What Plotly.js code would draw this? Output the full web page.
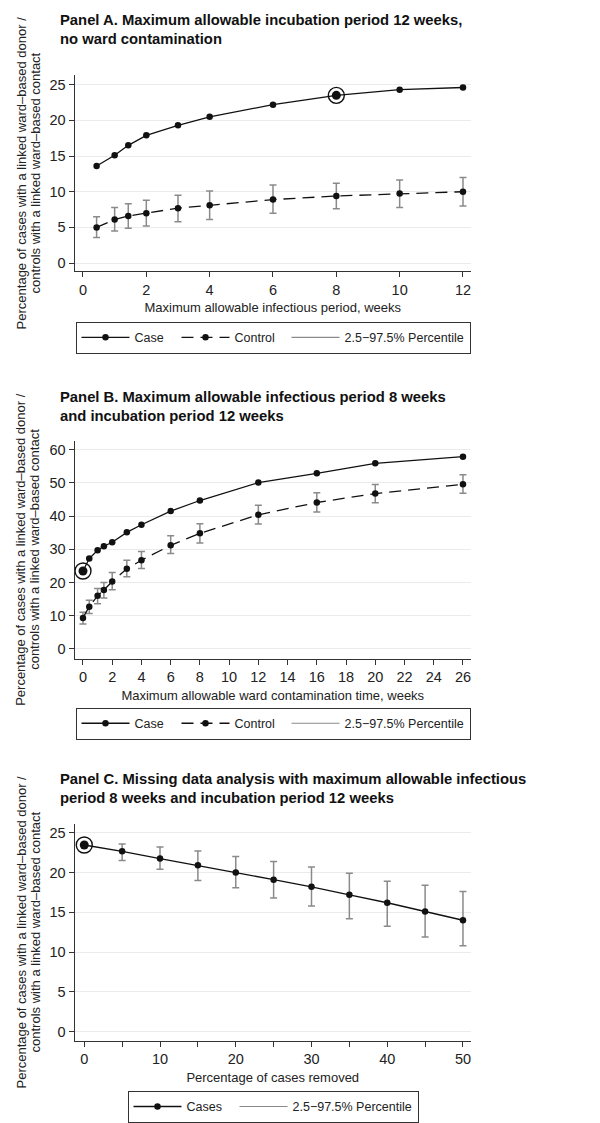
<!DOCTYPE html>
<html><head><meta charset="utf-8">
<script src="https://cdn.plot.ly/plotly-3.0.1.min.js"></script>
<style>html,body{margin:0;padding:0;background:#fff}#chart{width:600px;height:1123px}</style>
</head><body><div id="chart"></div><script>
// ---------- Panel A: x = maximum allowable infectious period (weeks)
const aWeeks   = [0.43, 1, 1.43, 2, 3, 4, 6, 8, 10, 12];
const aCase    = [13.6, 15.1, 16.5, 17.9, 19.3, 20.5, 22.2, 23.5, 24.3, 24.6];
const aControl = [5.0, 6.1, 6.6, 7.0, 7.7, 8.1, 8.9, 9.4, 9.75, 10.0];
const aCtrlLo  = [3.6, 4.5, 4.9, 5.2, 5.8, 6.1, 7.0, 7.6, 7.8, 8.0];
const aCtrlHi  = [6.5, 7.8, 8.3, 8.8, 9.5, 10.1, 10.95, 11.2, 11.65, 12.0];
const aHighX = [8], aHighY = [23.5];
const aTicks = [0, 2, 4, 6, 8, 10, 12];

// ---------- Panel B: x = maximum allowable ward contamination time (weeks)
const bWeeks   = [0, 0.43, 1, 1.43, 2, 3, 4, 6, 8, 12, 16, 20, 26];
const bCase    = [23.45, 27.2, 29.7, 30.9, 32.1, 35.1, 37.4, 41.5, 44.7, 50.1, 52.9, 55.9, 57.9];
const bControl = [9.3, 12.7, 16.0, 17.7, 20.3, 24.1, 26.7, 31.2, 34.8, 40.4, 44.1, 46.8, 49.6];
const bCtrlLo  = [7.5, 10.6, 13.6, 15.3, 17.8, 21.7, 24.2, 28.7, 31.9, 37.6, 41.2, 44.0, 46.9];
const bCtrlHi  = [11.0, 14.6, 18.2, 20.0, 23.0, 26.7, 29.3, 34.1, 37.7, 43.3, 47.0, 49.5, 52.5];
const bHighX = [0], bHighY = [23.45];
const bTicks = [0, 2, 4, 6, 8, 10, 12, 14, 16, 18, 20, 22, 24, 26];

// ---------- Panel C: x = percentage of cases removed
const cRemoved = [0, 5, 10, 15, 20, 25, 30, 35, 40, 45, 50];
const cCases   = [23.46, 22.67, 21.75, 20.9, 20.0, 19.1, 18.2, 17.2, 16.2, 15.1, 14.0];
const cLo      = [23.46, 21.5, 20.4, 19.0, 18.1, 16.8, 15.8, 14.2, 13.25, 11.9, 10.8];
const cHi      = [23.46, 23.6, 23.2, 22.7, 22.0, 21.4, 20.7, 19.9, 18.9, 18.4, 17.6];
const cHighX = [0], cHighY = [23.46];

const titleA = 'Panel A. Maximum allowable incubation period 12 weeks,<br>no ward contamination';
const titleB = 'Panel B. Maximum allowable infectious period 8 weeks<br>and incubation period 12 weeks';
const titleC = 'Panel C. Missing data analysis with maximum allowable infectious<br>period 8 weeks and incubation period 12 weeks';
const yTitle1 = 'Percentage of cases with a linked ward\u2013based donor /';
const yTitle2 = 'controls with a linked ward\u2013based contact';
const xTitleA = 'Maximum allowable infectious period, weeks';
const xTitleB = 'Maximum allowable ward contamination time, weeks';
const xTitleC = 'Percentage of cases removed';
const legCase = 'Case', legControl = 'Control', legCases = 'Cases', legPct = '2.5\u221297.5% Percentile';

const FONT = 'Liberation Sans, Arial, sans-serif';
const BLACK = '#111';
const ERR = '#8a8a8a';
const diff = (a, b) => a.map((v, i) => v - b[i]);
const errBar = (hi, lo, mid) => ({type: 'data', symmetric: false, array: diff(hi, mid), arrayminus: diff(mid, lo), color: ERR, thickness: 1.5, width: 3.5});
const mk = {color: BLACK, size: 6.5};
const solid = {color: BLACK, width: 1.3};
const dashed = {color: BLACK, width: 1.3, dash: '12px,7px'};

function highlight(xs, ys, xa, ya) {
  return [
    {x: xs, y: ys, xaxis: xa, yaxis: ya, type: 'scatter', mode: 'markers', showlegend: false, hoverinfo: 'skip',
     marker: {symbol: 'circle', size: 9, color: BLACK}},
    {x: xs, y: ys, xaxis: xa, yaxis: ya, type: 'scatter', mode: 'markers', showlegend: false, hoverinfo: 'skip',
     marker: {symbol: 'circle-open', size: 16, color: BLACK, line: {width: 1.4, color: BLACK}}}
  ];
}
function pctLegend(leg, xa, ya) {
  return {x: [null], y: [null], type: 'scatter', mode: 'lines', name: legPct, legend: leg, legendrank: 3,
          line: {color: ERR, width: 1.2}, xaxis: xa, yaxis: ya};
}

const data = [
  // Panel A
  {x: aWeeks, y: aCase, xaxis: 'x', yaxis: 'y', type: 'scatter', mode: 'lines+markers', name: legCase, legend: 'legend',
   line: solid, marker: mk, legendrank: 1, legendwidth: 37},
  {x: aWeeks, y: aControl, xaxis: 'x', yaxis: 'y', type: 'scatter', mode: 'lines+markers', name: legControl, legend: 'legend',
   line: dashed, marker: mk, error_y: errBar(aCtrlHi, aCtrlLo, aControl), legendrank: 2, legendwidth: 47},
  pctLegend('legend', 'x', 'y'),
  ...highlight(aHighX, aHighY, 'x', 'y'),
  // Panel B
  {x: bWeeks, y: bCase, xaxis: 'x2', yaxis: 'y2', type: 'scatter', mode: 'lines+markers', name: legCase, legend: 'legend2',
   line: solid, marker: mk, legendrank: 1, legendwidth: 37},
  {x: bWeeks, y: bControl, xaxis: 'x2', yaxis: 'y2', type: 'scatter', mode: 'lines+markers', name: legControl, legend: 'legend2',
   line: dashed, marker: mk, error_y: errBar(bCtrlHi, bCtrlLo, bControl), legendrank: 2, legendwidth: 47},
  pctLegend('legend2', 'x2', 'y2'),
  ...highlight(bHighX, bHighY, 'x2', 'y2'),
  // Panel C
  {x: cRemoved, y: cCases, xaxis: 'x3', yaxis: 'y3', type: 'scatter', mode: 'lines+markers', name: legCases, legend: 'legend3',
   line: solid, marker: mk, error_y: errBar(cHi, cLo, cCases), legendrank: 1, legendwidth: 43},
  pctLegend('legend3', 'x3', 'y3'),
  ...highlight(cHighX, cHighY, 'x3', 'y3')
];

const W = 600, H = 1123;
const px = v => v / W;
const py = v => 1 - v / H;
const XD = [px(74.5), px(471)];

const axBase = {showline: true, linecolor: '#333', linewidth: 1, ticks: 'outside', ticklen: 5, tickwidth: 1,
  tickcolor: '#333', tickfont: {size: 14.5, color: '#222'}, showgrid: false, zeroline: false, automargin: false, fixedrange: true};
const yBase = Object.assign({}, axBase, {showgrid: true, gridcolor: '#ebebeb', gridwidth: 1, tickangle: 0});

function xAx(range, extra, title, anchor) {
  return Object.assign({}, axBase, {domain: XD, range: range, anchor: anchor,
    title: {text: title, font: {size: 13, color: '#222'}, standoff: 6}}, extra);
}
function yAx(domTop, domBot, range, dtick, anchor) {
  return Object.assign({}, yBase, {domain: [py(domBot), py(domTop)], range: range, dtick: dtick, anchor: anchor});
}
function legend(topPx) {
  return {orientation: 'h', x: px(273), xanchor: 'center', y: py(topPx), yanchor: 'top',
    bordercolor: '#333', borderwidth: 1, bgcolor: '#fff', font: {size: 12.5, color: '#222'},
    itemwidth: 48, traceorder: 'normal', tracegroupgap: 0};
}
function panelTitle(text, centerPx) {
  return {text: text, xref: 'paper', yref: 'paper', x: px(58), y: py(centerPx), xanchor: 'left', yanchor: 'middle',
    align: 'left', showarrow: false, font: {size: 14.8, color: '#111', family: FONT, weight: 'bold'}};
}
function yTitle(text, xPx, centerPx) {
  return {text: text, xref: 'paper', yref: 'paper', x: px(xPx), y: py(centerPx), xanchor: 'center', yanchor: 'middle',
    textangle: -90, showarrow: false, font: {size: 13, color: '#222', family: FONT}};
}

const yA = [76, 273.3], yB = [444.3, 663.3], yC = [830, 1048.3];
const mid = r => (r[0] + r[1]) / 2;

const layout = {
  width: W, height: H, margin: {l: 0, r: 0, t: 0, b: 0},
  paper_bgcolor: '#fff', plot_bgcolor: '#fff',
  font: {family: FONT, color: '#222'},
  xaxis: xAx([-0.268, 12.253], {tickvals: aTicks}, xTitleA, 'y'),
  yaxis: yAx(yA[0], yA[1], [-1.155, 26.29], 5, 'x'),
  xaxis2: xAx([-0.58, 26.55], {tickvals: bTicks}, xTitleB, 'y2'),
  yaxis2: yAx(yB[0], yB[1], [-2.96, 62.6], 10, 'x2'),
  xaxis3: xAx([-1.29, 51.06], {dtick: 10, tick0: 0, minor: {dtick: 5, ticks: 'outside', ticklen: 5, tickcolor: '#333', showgrid: false}}, xTitleC, 'y3'),
  yaxis3: yAx(yC[0], yC[1], [-1.16, 26.09], 5, 'x3'),
  legend: legend(324),
  legend2: legend(712.7),
  legend3: legend(1098.7),
  showlegend: true,
  annotations: [
    panelTitle(titleA, 29.5), panelTitle(titleB, 409.5), panelTitle(titleC, 794.5),
    yTitle(yTitle1, 21, mid(yA)), yTitle(yTitle2, 35, mid(yA)),
    yTitle(yTitle1, 21, mid(yB)), yTitle(yTitle2, 35, mid(yB)),
    yTitle(yTitle1, 21, mid(yC)), yTitle(yTitle2, 35, mid(yC))
  ]
};

Plotly.newPlot('chart', data, layout, {displayModeBar: false, staticPlot: true});
</script></body></html>
